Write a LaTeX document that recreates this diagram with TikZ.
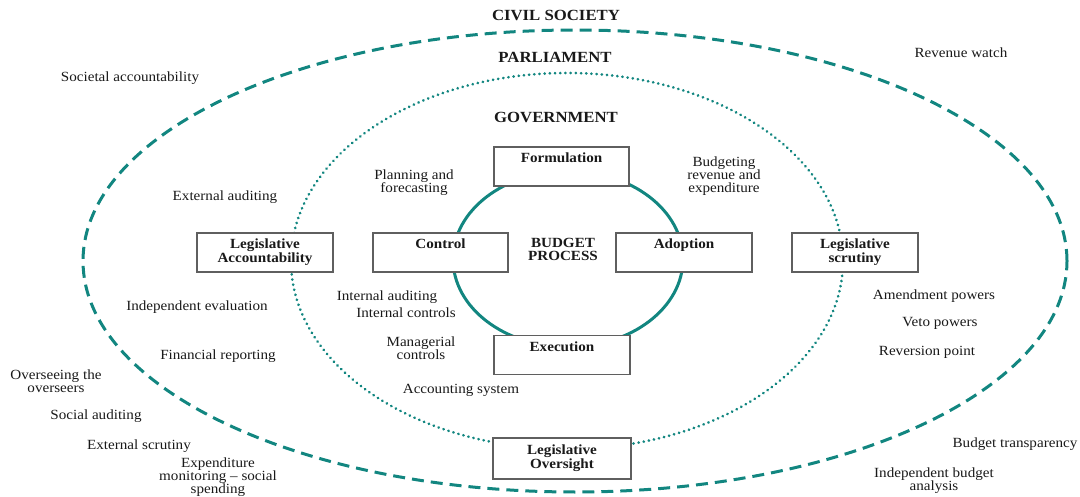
\documentclass[tikz,border=0pt]{standalone}
\usepackage{fontspec}
\setmainfont{Liberation Serif}[FakeStretch=1.08]
\definecolor{ringteal}{RGB}{18,134,128}
\definecolor{boxgray}{RGB}{95,95,95}
\definecolor{ink}{RGB}{25,25,25}
% label set at the top of a stage box
\newcommand{\stagetext}[1]{\parbox[c][27pt][t]{112pt}{\centering #1}}
\begin{document}
\begin{tikzpicture}[x=1pt,y=-1pt,
  note/.style={font=\fontsize{14}{13}\selectfont, align=center, inner sep=0pt, text=ink},
  tier/.style={font=\fontsize{15.5}{16}\selectfont\bfseries, inner sep=0pt, text=ink},
  stage/.style={rectangle, draw=boxgray, line width=1.1pt, fill=white,
    minimum height=39pt, inner xsep=4pt, inner ysep=6pt, text=ink,
    font=\fontsize{14}{12.5}\selectfont\bfseries},
  civilring/.style={ringteal, line width=3pt, dash pattern=on 12pt off 7pt},
  parlring/.style={ringteal, line width=2.8pt, line cap=round, dash pattern=on 0.2pt off 5pt},
  cyclering/.style={ringteal, line width=3pt}
]
\useasboundingbox (0,0) rectangle (1080,497);

% nested arenas and the budget cycle
\draw[civilring] (575,261) ellipse [x radius=492pt, y radius=231pt];
\draw[parlring] (567,261) ellipse [x radius=276pt, y radius=188pt];
\draw[cyclering] (568,259) ellipse [x radius=115pt, y radius=88pt];

% arena titles
\node[tier] (civil) at (556,15) {CIVIL SOCIETY};
\node[tier] (parl) at (555,57) {PARLIAMENT};
\node[tier] (gov) at (556,117) {GOVERNMENT};

% budget cycle stages
\node[stage, minimum width=135pt] (form) at (561.5,166.5) {\stagetext{Formulation}};
\node[stage, minimum width=135pt] (ctrl) at (440.5,252.5) {\stagetext{Control}};
\node[stage, minimum width=136pt] (adopt) at (684,252.5) {\stagetext{Adoption}};
\node[stage, minimum width=136pt] (exec) at (562,355) {\stagetext{Execution}};
\node[font=\fontsize{14}{13}\selectfont\bfseries, align=center, inner sep=0pt, text=ink]
  (bp) at (563,249.5) {BUDGET\\PROCESS};

% legislative roles
\node[stage, minimum width=136pt] (lacc) at (265,252.5) {\stagetext{Legislative\\Accountability}};
\node[stage, minimum width=126pt] (lscr) at (855,252.5) {\stagetext{Legislative\\scrutiny}};
\node[stage, minimum width=138pt, minimum height=41pt, inner ysep=7pt] (lovs) at (562,458.5) {\stagetext{Legislative\\Oversight}};

% government-level instruments
\node[note] (plan) at (414,183) {Planning and\\forecasting};
\node[note] (budg) at (724,176) {Budgeting\\revenue and\\expenditure};
\node[note] (iaud) at (387,297) {Internal auditing};
\node[note] (ictl) at (406,313) {Internal controls};
\node[note] (mctl) at (421,348.5) {Managerial\\controls};
\node[note] (acct) at (461,390) {Accounting system};

% parliament-level instruments
\node[note] (eaud) at (225,197) {External auditing};
\node[note] (ieval) at (197,307) {Independent evaluation};
\node[note] (finrep) at (218,356) {Financial reporting};
\node[note] (amend) at (934,296) {Amendment powers};
\node[note] (veto) at (940,323) {Veto powers};
\node[note] (revp) at (927,352) {Reversion point};

% civil society instruments
\node[note] (soc) at (130,78) {Societal accountability};
\node[note] (revw) at (961,53) {Revenue watch};
\node[note] (ovs) at (56,381.5) {Overseeing the\\overseers};
\node[note] (saud) at (96,416) {Social auditing};
\node[note] (escr) at (139,446) {External scrutiny};
\node[note] (expm) at (218,477) {Expenditure\\monitoring -- social\\spending};
\node[note] (btr) at (1015,444) {Budget transparency};
\node[note] (iba) at (934,480.5) {Independent budget\\analysis};
\end{tikzpicture}
\end{document}
